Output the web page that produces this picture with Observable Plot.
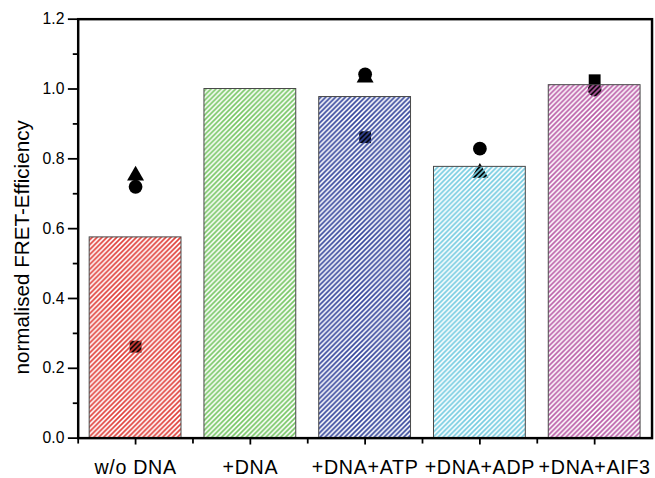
<!DOCTYPE html>
<html>
<head>
<meta charset="utf-8">
<script src="https://cdn.jsdelivr.net/npm/d3@7"></script>
<script src="https://cdn.jsdelivr.net/npm/@observablehq/plot@0.6"></script>
<style>
  html, body { margin: 0; padding: 0; background: #fff; overflow: hidden; }
  #chart { width: 655px; height: 478px; overflow: hidden; }
</style>
</head>
<body>
<div id="chart"></div>
<script>
const categories = ["w/o DNA", "+DNA", "+DNA+ATP", "+DNA+ADP", "+DNA+AIF3"];
const barValues = [0.575, 1.0, 0.977, 0.777, 1.011];
const circleValues = [0.72, null, 1.042, 0.829, 0.998];
const triangleValues = [0.752, null, 1.033, 0.76, null];
const squareValues = [0.262, null, 0.862, null, 1.025];
const hatchColors = ["#e0403a", "#74c562", "#33449a", "#72cbe0", "#b85aa6"];
const yMajorTicks = [0, 0.2, 0.4, 0.6, 0.8, 1.0, 1.2];
const yMinorTicks = [0.1, 0.3, 0.5, 0.7, 0.9, 1.1];
const yLabel = "normalised FRET-Efficiency";

const idx = d3.range(categories.length);
const bars = idx.map(i => ({i, value: barValues[i], fill: `url(#hatch${i})`}));
const pts = vals => idx.filter(i => vals[i] != null).map(i => ({i, value: vals[i]}));

const font = "Liberation Sans, Arial, sans-serif";

const svg = Plot.plot({
  width: 666,
  height: 478,
  marginLeft: 79,
  marginRight: 3.5,
  marginTop: 19,
  marginBottom: 33,
  style: {fontFamily: font, color: "#000", background: "#fff", overflow: "visible"},
  x: {domain: [-0.5, 4.5]},
  y: {domain: [0, 1.2]},
  color: {type: "identity"},
  marks: [
    Plot.dot(pts(circleValues), {x: "i", y: "value", symbol: "circle", r: 7, fill: "#000"}),
    Plot.dot(pts(triangleValues), {x: "i", y: "value", symbol: "triangle", r: 6.4, fill: "#000"}),
    Plot.dot(pts(squareValues), {x: "i", y: "value", symbol: "square", r: 6.8, fill: "#000"}),
    Plot.rectY(bars, {x1: d => d.i - 0.4, x2: d => d.i + 0.4, y1: 0, y2: "value", fill: "fill", stroke: "#474747", strokeWidth: 1}),
    Plot.axisY({ticks: yMajorTicks, tickFormat: d => d.toFixed(1), tickSize: 10, tickPadding: 4, fontSize: 16,
      strokeWidth: 1.8, label: null}),
    Plot.axisY({ticks: yMinorTicks, tickFormat: () => "", tickSize: 5, strokeWidth: 1.8, label: null}),
    Plot.axisX({ticks: idx, tickFormat: i => categories[i], tickSize: 7, tickPadding: 15, fontSize: 20,
      strokeWidth: 1.8, label: null}),
    Plot.axisX({ticks: [-0.5, 0.5, 1.5, 2.5, 3.5], tickFormat: () => "", tickSize: 6, strokeWidth: 1.8, label: null}),
    Plot.text([yLabel], {frameAnchor: "left", textAnchor: "middle", lineAnchor: "middle", rotate: -90, dx: -57, dy: 19, fontSize: 21, fill: "#000"}),
    Plot.frame({stroke: "#000", strokeWidth: 2.5})
  ]
});

d3.select(svg).selectAll("g[aria-label='x-axis tick label'] text").style("letter-spacing", "0.7px");

const defs = d3.select(svg).insert("defs", ":first-child");
hatchColors.forEach((c, i) => {
  const s = 5;
  const p = defs.append("pattern")
    .attr("id", `hatch${i}`)
    .attr("patternUnits", "userSpaceOnUse")
    .attr("width", s).attr("height", s);
  p.append("path")
    .attr("d", `M0,${s} L${s},0 M${-s/2},${s/2} L${s/2},${-s/2} M${s/2},${s*1.5} L${s*1.5},${s/2}`)
    .attr("stroke", c)
    .attr("stroke-width", 1.7)
    .attr("fill", "none");
});

document.getElementById("chart").appendChild(svg);
</script>
</body>
</html>
